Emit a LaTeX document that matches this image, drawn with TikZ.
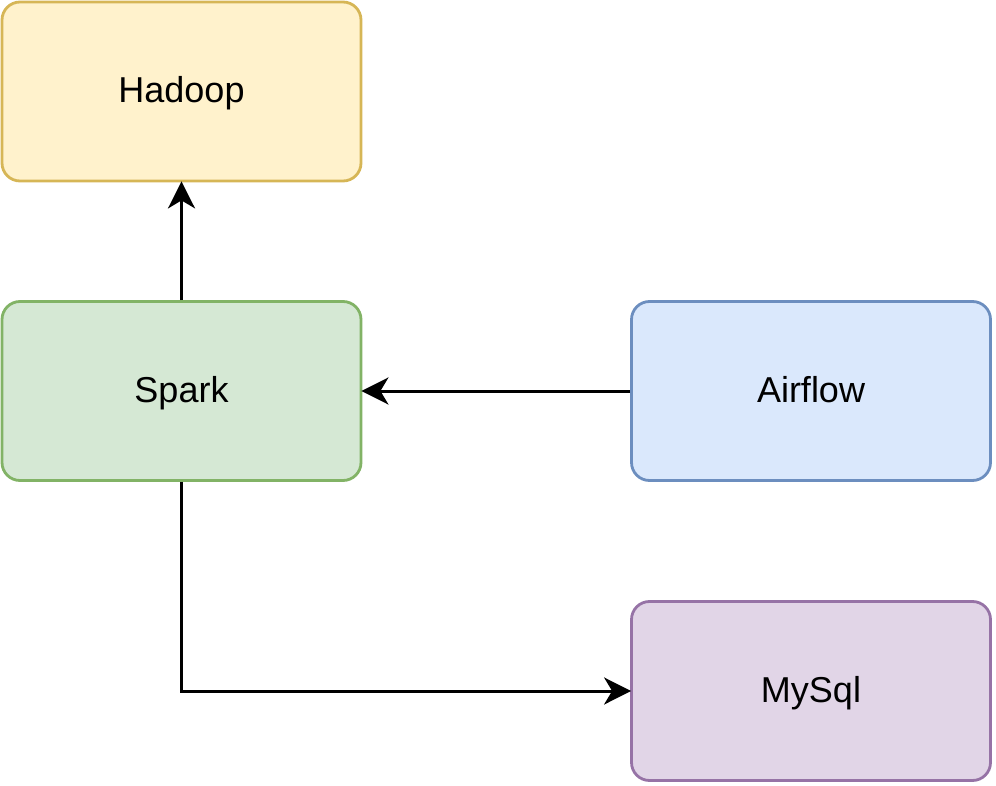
\documentclass[tikz,border=0pt]{standalone}
\usepackage{fontspec}
\setmainfont{Liberation Sans}
\usetikzlibrary{arrows.meta}
\definecolor{hadoopfill}{HTML}{FFF2CC}
\definecolor{hadoopline}{HTML}{D6B656}
\definecolor{sparkfill}{HTML}{D5E8D4}
\definecolor{sparkline}{HTML}{82B366}
\definecolor{airfill}{HTML}{DAE8FC}
\definecolor{airline}{HTML}{6C8EBF}
\definecolor{sqlfill}{HTML}{E1D5E7}
\definecolor{sqlline}{HTML}{9673A6}
\tikzset{
  box/.style={rectangle, rounded corners=18pt, minimum width=359pt, minimum height=179pt, line width=2.8pt, inner sep=0pt, text height=26pt, text depth=4pt, font=\fontsize{36}{42}\selectfont},
  conn/.style={line width=3pt, -{Stealth[length=27pt, width=27pt, inset=8pt]}, shorten >=-1pt}
}
\begin{document}
\begin{tikzpicture}[x=1pt, y=-1pt]
\useasboundingbox (0,0) rectangle (996,786);
\node[box, draw=hadoopline, fill=hadoopfill] (hadoop) at (181.5,91.5) {Hadoop};
\node[box, draw=sparkline, fill=sparkfill] (spark) at (181.5,391) {Spark};
\node[box, draw=airline, fill=airfill] (airflow) at (811,391) {Airflow};
\node[box, draw=sqlline, fill=sqlfill] (mysql) at (811,691) {MySql};
\draw[conn] (spark.north) -- (hadoop.south);
\draw[conn] (airflow.west) -- (spark.east);
\draw[conn] (spark.south) |- (mysql.west);
\end{tikzpicture}
\end{document}
